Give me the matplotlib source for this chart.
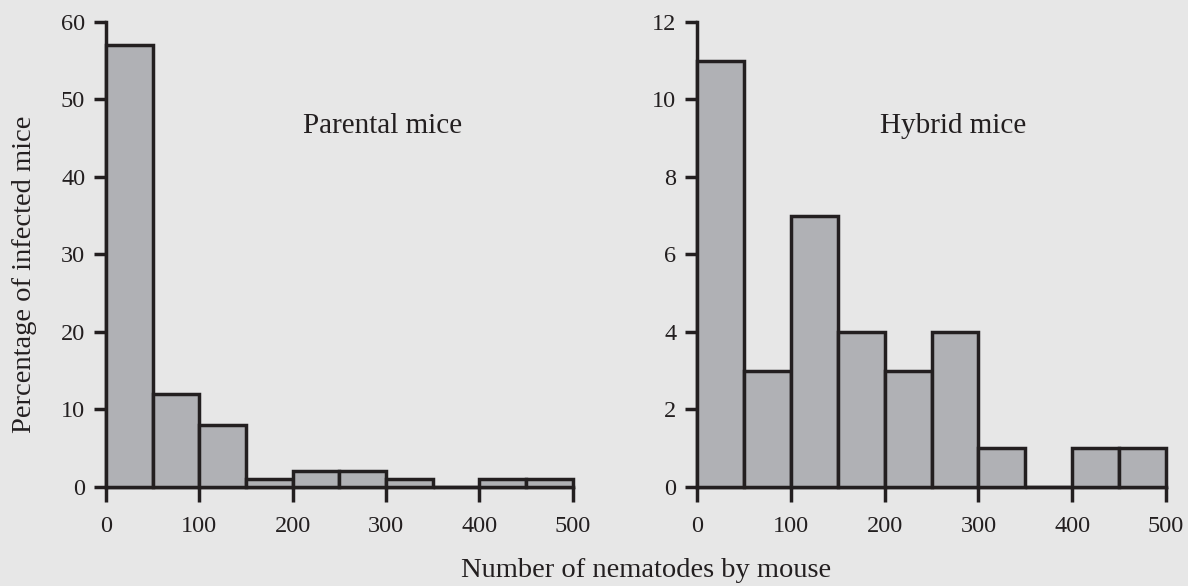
import numpy as np
import matplotlib.pyplot as plt

plt.rcParams['font.family'] = ['Liberation Serif', 'DejaVu Serif']

# Histogram bins (number of nematodes per mouse)
bin_edges = [0, 50, 100, 150, 200, 250, 300, 350, 400, 450]
bin_width = 50

# Percentage of infected mice in each bin
parental_pct = [57, 12, 8, 1, 2, 2, 1, 0, 1, 1]
hybrid_pct = [11, 3, 7, 4, 3, 4, 1, 0, 1, 1]

bg = '#e7e7e7'
bar_fill = '#b0b1b5'
ink = '#231f20'

fig = plt.figure(figsize=(11.88, 5.86), dpi=100, facecolor=bg)
ax_left = fig.add_axes([0.0892, 0.169, 0.393, 0.7935])
ax_right = fig.add_axes([0.5867, 0.169, 0.3948, 0.7935])

panels = [
    (ax_left, parental_pct, 60, 10, 'Parental mice', 0.593),
    (ax_right, hybrid_pct, 12, 2, 'Hybrid mice', 0.546),
]

for ax, pct, ymax, ystep, title, tx in panels:
    ax.set_facecolor(bg)
    ax.bar(bin_edges, pct, width=bin_width, align='edge', color=bar_fill,
           edgecolor=ink, linewidth=2.5, clip_on=False, zorder=3)
    ax.set_xlim(0, 500)
    ax.set_ylim(0, ymax)
    ax.set_xticks(np.arange(0, 501, 100))
    ax.set_yticks(np.arange(0, ymax + 1, ystep))
    for side in ('top', 'right'):
        ax.spines[side].set_visible(False)
    for side in ('left', 'bottom'):
        ax.spines[side].set_linewidth(2.5)
        ax.spines[side].set_color(ink)
        ax.spines[side].set_capstyle('projecting')
    ax.tick_params(axis='x', length=11, width=2.5, color=ink,
                   labelsize=17.5, labelcolor=ink, pad=10)
    ax.tick_params(axis='y', length=9, width=2.5, color=ink,
                   labelsize=17.5, labelcolor=ink, pad=6)
    ax.text(tx, 0.761, title, transform=ax.transAxes, ha='center',
            va='baseline', fontsize=21, color=ink)

fig.text(0.021, 0.532, 'Percentage of infected mice', rotation=90,
         ha='center', va='center', fontsize=20.5, color=ink)
fig.text(0.544, 0.016, 'Number of nematodes by mouse', ha='center',
         va='baseline', fontsize=20.5, color=ink)

fig.savefig('out.png', dpi=100, facecolor=bg)
